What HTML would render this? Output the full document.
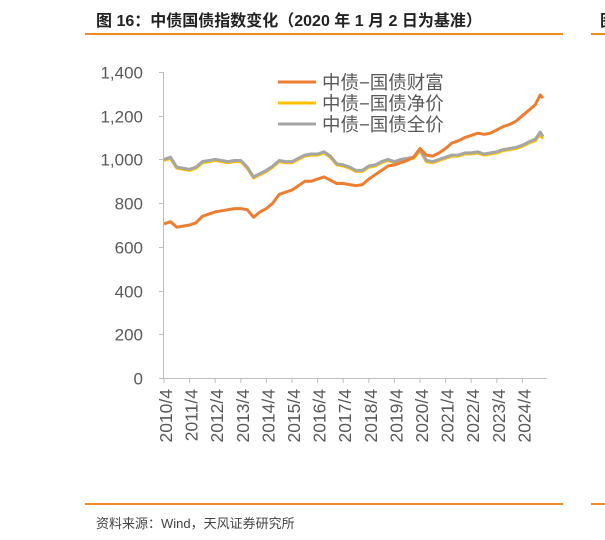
<!DOCTYPE html>
<html><head><meta charset="utf-8"><style>
body{margin:0;width:605px;height:540px;background:#fff;overflow:hidden;position:relative;font-family:"Liberation Sans","Noto Sans CJK SC",sans-serif}
.t{position:absolute;left:96px;top:7px;font-size:16px;font-weight:bold;color:#222;white-space:nowrap}
.l{position:absolute;height:2px;background:#f08a24}
.s{position:absolute;left:96px;top:513px;font-size:13px;color:#444}
</style></head><body>
<div class="t">图 16：中债国债指数变化（2020 年 1 月 2 日为基准）</div>
<div class="t" style="left:600px">图</div>
<div class="l" style="left:85px;top:33px;width:478px"></div>
<div class="l" style="left:591px;top:33px;width:20px"></div>
<div class="l" style="left:85px;top:503px;width:478px"></div>
<div class="l" style="left:591px;top:503px;width:20px"></div>
<div class="s">资料来源：Wind，天风证券研究所</div>
<svg id="c" width="605" height="540" style="position:absolute;left:0;top:0"></svg>
<script>
const dates=[2010.25,2010.5,2010.75,2011,2011.25,2011.5,2011.75,2012,2012.25,2012.5,2012.75,2013,2013.25,2013.5,2013.75,2014,2014.25,2014.5,2014.75,2015,2015.25,2015.5,2015.75,2016,2016.25,2016.5,2016.75,2017,2017.25,2017.5,2017.75,2018,2018.25,2018.5,2018.75,2019,2019.25,2019.5,2019.75,2020,2020.25,2020.5,2020.75,2021,2021.25,2021.5,2021.75,2022,2022.25,2022.5,2022.75,2023,2023.25,2023.5,2023.75,2024,2024.25,2024.5,2024.75,2024.95,2025.05];
const wealth=[705,715,690,695,700,710,740,750,760,765,770,775,775,770,735,760,775,800,840,850,860,880,900,900,910,920,905,890,890,885,880,885,910,930,950,970,975,985,995,1010,1050,1020,1015,1030,1050,1075,1085,1100,1110,1120,1115,1120,1135,1150,1160,1175,1200,1225,1250,1295,1280];
const clean=[995,1005,960,955,950,960,985,990,995,990,985,990,990,960,915,930,945,965,990,985,985,1000,1015,1020,1020,1030,1010,975,970,960,945,945,965,970,985,995,985,995,1000,1005,1040,990,985,995,1005,1015,1015,1025,1025,1030,1020,1025,1030,1040,1045,1050,1060,1075,1085,1115,1095];
const full=[1000,1010,965,960,955,965,990,995,1000,995,990,995,995,965,920,935,950,970,995,990,990,1005,1020,1025,1025,1035,1015,980,975,965,950,950,970,975,990,1000,990,1000,1005,1010,1045,995,990,1000,1010,1020,1020,1030,1030,1035,1025,1030,1035,1045,1050,1055,1065,1080,1092,1125,1105];
const yTicks=[0,200,400,600,800,1000,1200,1400];
const xTicks=["2010/4","2011/4","2012/4","2013/4","2014/4","2015/4","2016/4","2017/4","2018/4","2019/4","2020/4","2021/4","2022/4","2023/4","2024/4"];
const names=["中债−国债财富","中债−国债净价","中债−国债全价"];
const colors=["#ed7d31","#ffc000","#a5a5a5"];
const svg=document.getElementById('c'),NS="http://www.w3.org/2000/svg";
const X=d=>164+(d-2010.25)*25.6, Y=v=>378-v*(306/1400);
function mk(t,a){const e=document.createElementNS(NS,t);for(const k in a)e.setAttribute(k,a[k]);svg.appendChild(e);return e;}
let ax=mk('line',{x1:163.5,y1:378.5,x2:547,y2:378.5,stroke:'#bfbfbf','stroke-width':1});

let ay=mk('line',{x1:163.5,y1:72,x2:163.5,y2:378.5,stroke:'#bfbfbf','stroke-width':1});

yTicks.forEach(v=>{const y=Math.round(Y(v))+0.5;
mk('line',{x1:159,x2:163.5,y1:y,y2:y,stroke:'#bfbfbf'});
const t=mk('text',{x:143,y:y+6,'text-anchor':'end','font-size':17,fill:'#595959'});t.textContent=v.toLocaleString('en-US');
});
xTicks.forEach((s,i)=>{const x=X(2010.25+i);
mk('line',{x1:x,x2:x,y1:378.5,y2:383,stroke:'#bfbfbf'});
const t=mk('text',{x:0,y:0,'text-anchor':'end','font-size':17.5,fill:'#595959',transform:`translate(${x+8},389) rotate(-90)`});t.textContent=s;
});
[clean,full,wealth].forEach((arr,j)=>{const k=[1,2,0][j];
const p=mk('polyline',{points:arr.map((v,i)=>X(dates[i]).toFixed(1)+','+Y(v).toFixed(1)).join(' '),fill:'none',stroke:colors[k],'stroke-width':3,'stroke-linejoin':'round'});
});
names.forEach((n,i)=>{const y=82+i*21;
mk('line',{x1:278,x2:316,y1:y,y2:y,stroke:colors[i],'stroke-width':3});
const t=mk('text',{x:322,y:y+7,'font-size':18.5,fill:'#595959'});t.textContent=n;
});
</script>
</body></html>
